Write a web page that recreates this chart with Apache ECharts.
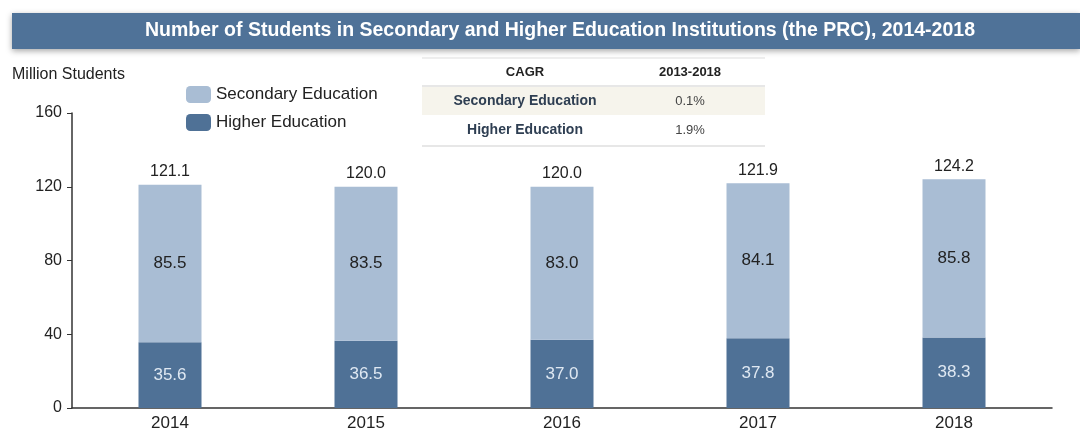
<!DOCTYPE html>
<html>
<head>
<meta charset="utf-8">
<script src="https://cdn.jsdelivr.net/npm/echarts@6/dist/echarts.min.js"></script>
<style>
  html, body { margin: 0; padding: 0; background: #fff; }
  #main { width: 1080px; height: 436px; }
</style>
</head>
<body>
<div id="main"></div>
<script>
let myChart = echarts.init(document.getElementById('main'))

const years = ['2014', '2015', '2016', '2017', '2018']
const higherEdu = [35.6, 36.5, 37.0, 37.8, 38.3]
const secondaryEdu = [85.5, 83.5, 83.0, 84.1, 85.8]
const totals = [121.1, 120.0, 120.0, 121.9, 124.2]
const yTicks = [0, 40, 80, 120, 160]

// CAGR table
const cagrHeader = ['CAGR', '2013-2018']
const cagrNames = ['Secondary Education', 'Higher Education']
const cagrValues = ['0.1%', '1.9%']

const colors = {
    banner: '#4f7298',
    secondary: '#a9bdd4',
    higher: '#4f7196',
    text: '#222'
}

const fontFamily = 'Arial, "Liberation Sans", sans-serif'

// table graphics
let tableLeft = 422, tableRight = 765
let colName = 525, colVal = 690
let tableGraphic = [
    {type: 'line', shape: {x1: tableLeft, y1: 58, x2: tableRight, y2: 58},
        style: {stroke: '#ddd', lineWidth: 1}},
    {type: 'text', x: colName, y: 72, style: {text: cagrHeader[0], fill: colors.text,
        font: 'bold 13px ' + fontFamily, align: 'center', verticalAlign: 'middle'}},
    {type: 'text', x: colVal, y: 72, style: {text: cagrHeader[1], fill: colors.text,
        font: 'bold 13px ' + fontFamily, align: 'center', verticalAlign: 'middle'}},
    {type: 'line', shape: {x1: tableLeft, y1: 86, x2: tableRight, y2: 86},
        style: {stroke: '#cfcfcf', lineWidth: 1}},
    {type: 'rect', shape: {x: tableLeft, y: 87, width: tableRight - tableLeft, height: 28},
        style: {fill: '#f6f4ec'}},
    {type: 'line', shape: {x1: tableLeft, y1: 146, x2: tableRight, y2: 146},
        style: {stroke: '#cfcfcf', lineWidth: 1}}
]
cagrNames.forEach((name, i) => {
    let y = 101 + i * 29
    tableGraphic.push({type: 'text', x: colName, y: y, style: {text: name, fill: '#2e3e52',
        font: 'bold 14px ' + fontFamily, align: 'center', verticalAlign: 'middle'}})
    tableGraphic.push({type: 'text', x: colVal, y: y, style: {text: cagrValues[i], fill: '#444',
        font: '13px ' + fontFamily, align: 'center', verticalAlign: 'middle'}})
})

let option = {
    backgroundColor: '#fff',
    textStyle: {fontFamily: fontFamily},
    graphic: [
        {
            type: 'rect',
            shape: {x: 12, y: 13, width: 1068, height: 36},
            style: {fill: colors.banner, shadowBlur: 6, shadowColor: 'rgba(0,0,0,0.35)', shadowOffsetY: 2}
        },
        {
            type: 'text', x: 560, y: 31,
            style: {
                text: 'Number of Students in Secondary and Higher Education Institutions (the PRC), 2014-2018',
                fill: '#fff', font: 'bold 19.5px ' + fontFamily, align: 'center', verticalAlign: 'middle'
            }
        },
        {
            type: 'text', x: 12, y: 75,
            style: {text: 'Million Students', fill: colors.text, font: '16px ' + fontFamily,
                verticalAlign: 'middle'}
        }
    ].concat(tableGraphic),
    legend: {
        left: 181,
        top: 81,
        orient: 'vertical',
        itemWidth: 25,
        itemHeight: 17,
        itemGap: 11,
        data: ['Secondary Education', 'Higher Education'],
        textStyle: {fontSize: 17, color: colors.text, fontFamily: fontFamily}
    },
    grid: {left: 72, right: 28, top: 113, bottom: 28},
    xAxis: {
        type: 'category',
        data: years,
        axisLine: {lineStyle: {color: '#333', width: 1.5}},
        axisTick: {show: false},
        axisLabel: {fontSize: 17, color: colors.text, margin: 7}
    },
    yAxis: {
        type: 'value',
        min: yTicks[0],
        max: yTicks[yTicks.length - 1],
        interval: 40,
        axisLine: {show: true, lineStyle: {color: '#333', width: 1.5}},
        axisTick: {show: true, inside: false, length: 5, lineStyle: {color: '#333'}},
        splitLine: {show: false},
        axisLabel: {fontSize: 16, color: colors.text, margin: 10}
    },
    series: [
        {
            name: 'Higher Education',
            type: 'bar',
            stack: 'total',
            barWidth: 63,
            data: higherEdu,
            itemStyle: {color: colors.higher},
            label: {show: true, position: 'inside', color: '#dfe8f2', fontSize: 17,
                formatter: p => p.value.toFixed(1)}
        },
        {
            name: 'Secondary Education',
            type: 'bar',
            stack: 'total',
            barWidth: 63,
            data: secondaryEdu,
            itemStyle: {color: colors.secondary},
            label: {show: true, position: 'inside', color: colors.text, fontSize: 17,
                formatter: p => p.value.toFixed(1)}
        },
        {
            name: 'Total',
            type: 'bar',
            stack: 'total',
            barWidth: 63,
            data: totals.map(() => 0),
            itemStyle: {color: 'transparent'},
            label: {show: true, position: 'top', distance: 5, color: colors.text, fontSize: 16,
                formatter: p => totals[p.dataIndex].toFixed(1)}
        }
    ]
};

myChart.setOption(option)
</script>
</body>
</html>
